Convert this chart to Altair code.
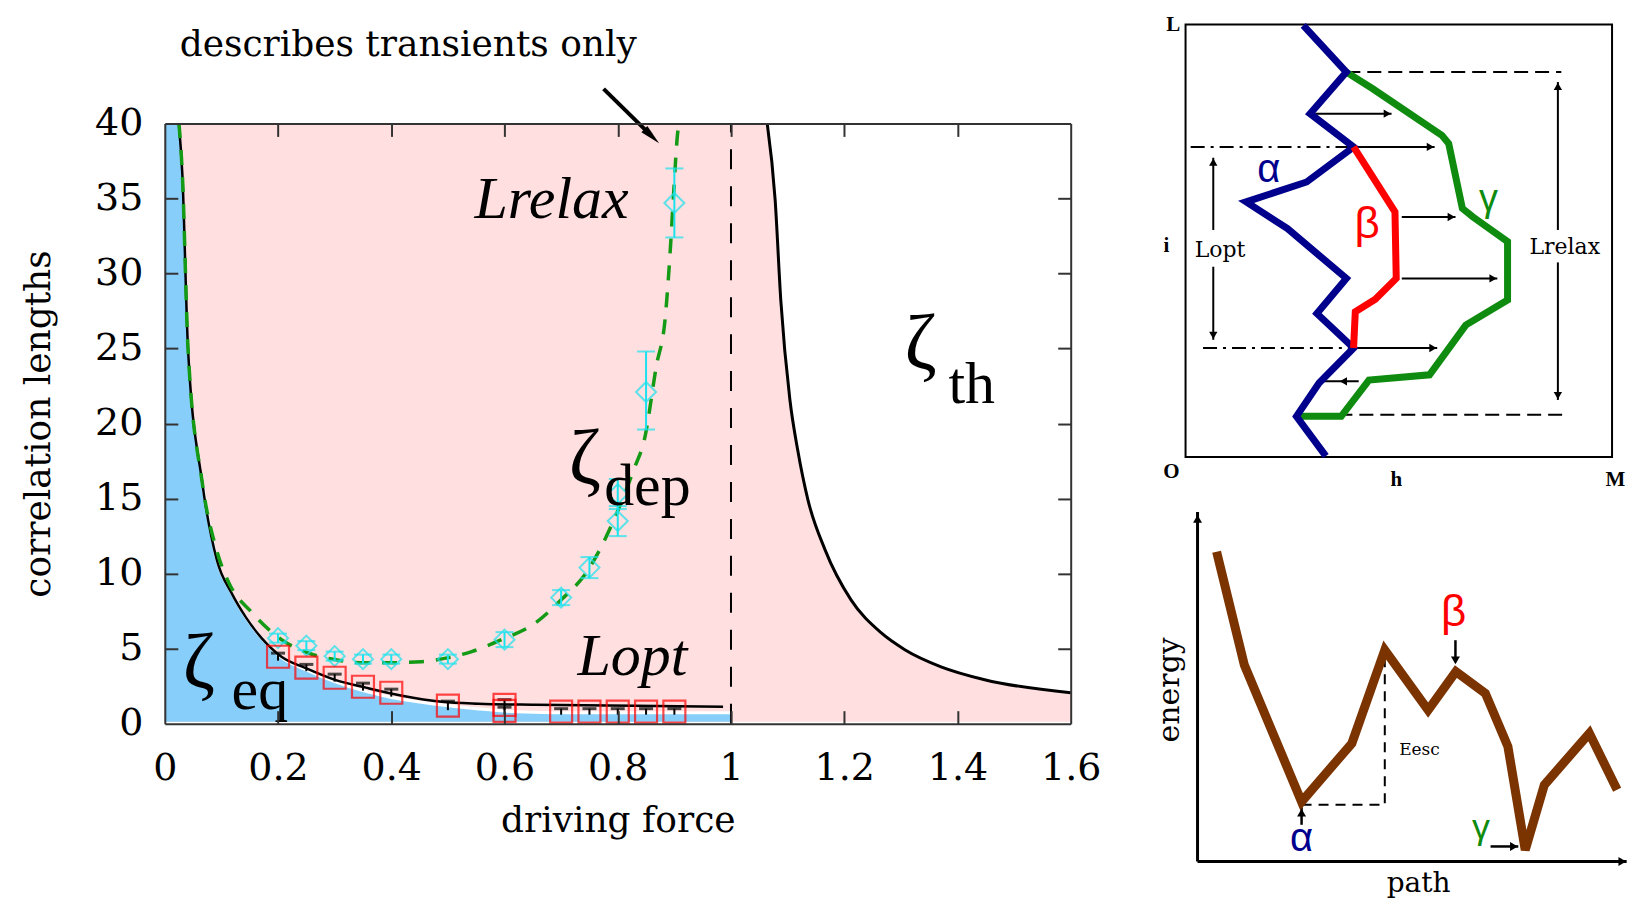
import altair as alt
import pandas as pd

SERIF = "DejaVu Serif"
TIMES = "Liberation Serif"
SANS = "Liberation Sans"

# ================= main panel: values =================
x_ticks = [0, 0.2, 0.4, 0.6, 0.8, 1.0, 1.2, 1.4, 1.6]
y_ticks = [0, 5, 10, 15, 20, 25, 30, 35, 40]
x_inner_ticks = [0.2, 0.4, 0.6, 0.8, 1.0, 1.2, 1.4]
y_inner_ticks = [5, 10, 15, 20, 25, 30, 35]

pink_x = [0.0, 1.064, 1.078, 1.088, 1.104, 1.118, 1.136, 1.166, 1.212, 1.265, 1.307, 1.371, 1.448, 1.6]
pink_y = [40.0, 40.0, 34.9, 28.2, 21.6, 18.2, 14.9, 11.6, 8.25, 6.06, 4.93, 3.79, 2.93, 2.06]

blue_x = [0.0, 0.024, 0.031, 0.041, 0.066, 0.092, 0.118, 0.143, 0.171, 0.206, 0.249, 0.30, 0.35, 0.40,
          0.45, 0.50, 0.55, 0.62, 0.75, 1.0]
blue_y = [40.0, 40.0, 36.6, 25.0, 16.1, 10.9, 8.7, 7.1, 5.7, 4.4, 3.6, 2.8, 2.2, 1.75,
          1.45, 1.2, 1.0, 0.8, 0.72, 0.72]
fill_floor = [0.12]

eq_x = [0.0247, 0.031, 0.041, 0.066, 0.092, 0.118, 0.143, 0.171, 0.206, 0.249, 0.302, 0.355, 0.419,
        0.489, 0.554, 0.654, 0.83, 0.986]
eq_y = [40.0, 36.6, 25.0, 16.1, 10.9, 8.7, 7.1, 5.7, 4.46, 3.7, 2.9, 2.4, 1.86,
        1.46, 1.33, 1.26, 1.2, 1.13]

th_x = [1.064, 1.078, 1.088, 1.104, 1.118, 1.136, 1.166, 1.212, 1.265, 1.307, 1.371, 1.448, 1.6]
th_y = [40.0, 34.9, 28.2, 21.6, 18.2, 14.9, 11.6, 8.25, 6.06, 4.93, 3.79, 2.93, 2.06]

fit_x = [0.025, 0.031, 0.041, 0.066, 0.092, 0.113, 0.154, 0.206, 0.254, 0.302, 0.348, 0.395, 0.453,
         0.501, 0.542, 0.595, 0.654, 0.70, 0.745, 0.798, 0.828, 0.848, 0.868, 0.884, 0.893, 0.898,
         0.907, 0.909]
fit_y = [40.0, 36.6, 25.0, 16.1, 11.5, 9.4, 7.4, 5.6, 4.7, 4.26, 4.06, 4.06, 4.13,
         4.4, 4.8, 5.6, 6.7, 8.25, 10.1, 14.0, 16.9, 19.1, 23.8, 27.1, 31.7, 34.9,
         39.7, 40.0]

relax_x = [0.2, 0.25, 0.3, 0.35, 0.4, 0.5, 0.6, 0.7, 0.75, 0.8, 0.8, 0.85, 0.9]
relax_y = [5.7, 5.2, 4.5, 4.3, 4.3, 4.3, 5.6, 8.4, 10.4, 13.5, 15.3, 22.1, 34.7]
relax_lo = [5.4, 4.9, 4.2, 4.0, 4.0, 4.0, 5.1, 7.9, 9.7, 12.5, 14.3, 19.6, 32.4]
relax_hi = [6.0, 5.5, 4.8, 4.6, 4.6, 4.6, 6.1, 8.9, 11.1, 14.5, 16.3, 24.8, 37.0]

opt_x = [0.2, 0.25, 0.3, 0.35, 0.4, 0.5, 0.6, 0.6, 0.7, 0.75, 0.8, 0.85, 0.9]
opt_y = [4.46, 3.73, 3.06, 2.46, 2.06, 1.2, 1.25, 0.85, 0.8, 0.8, 0.8, 0.8, 0.8]
opt_lo = [4.2, 3.5, 2.8, 2.2, 1.8, 0.9, 0.9, 0.6, 0.6, 0.6, 0.6, 0.6, 0.6]
opt_hi = [4.7, 3.95, 3.3, 2.7, 2.3, 1.5, 1.6, 1.1, 1.0, 1.0, 1.0, 1.0, 1.0]

depin_x = [1.0]
depin_y = [0.0]
depin_y2 = [40.0]

note_x = [0.430]
note_y = [44.5]
note_text = ["describes transients only"]
note_arrow_x = [0.775, 0.860]
note_arrow_y = [42.3, 39.15]

italic_x = [0.683, 0.826]
italic_y = [33.7, 3.26]
italic_text = ["Lrelax", "Lopt"]

zeta_x = [0.742, 1.335, 0.060]
zeta_y = [17.6, 25.2, 4.0]
sub_x = [0.776, 1.384, 0.118]
sub_y = [14.6, 21.4, 1.0]
sub_text = ["dep", "th", "eq"]

W, H = 907, 601
XS = alt.Scale(domain=[0, 1.6], nice=False, zero=False)
YS = alt.Scale(domain=[0, 40], nice=False, zero=False)


def MX(f="x"):
    return alt.X(f + ":Q", scale=XS, axis=None)


def MY(f="y"):
    return alt.Y(f + ":Q", scale=YS, axis=None)


pink = alt.Chart(pd.DataFrame({"x": pink_x, "y": pink_y, "b": fill_floor * len(pink_x)})).mark_area(
    color="#ffdfdf", opacity=1, interpolate="monotone").encode(x=MX(), y=MY(), y2="b:Q")
blue = alt.Chart(pd.DataFrame({"x": blue_x, "y": blue_y, "b": fill_floor * len(blue_x)})).mark_area(
    color="#87cefa", opacity=1, interpolate="monotone").encode(x=MX(), y=MY(), y2="b:Q")
blue_edge = alt.Chart(pd.DataFrame({"x": blue_x[4:], "y": blue_y[4:]})).mark_line(
    color="white", strokeWidth=3, interpolate="monotone").encode(x=MX(), y=MY())

depin = alt.Chart(pd.DataFrame({"x": depin_x, "y": depin_y, "y2": depin_y2})).mark_rule(
    color="black", strokeWidth=2, strokeDash=[20, 17]).encode(x=MX(), y=MY(), y2="y2:Q")

eq_line = alt.Chart(pd.DataFrame({"x": eq_x, "y": eq_y})).mark_line(
    color="black", strokeWidth=2.5, interpolate="monotone").encode(x=MX(), y=MY())
th_line = alt.Chart(pd.DataFrame({"x": th_x, "y": th_y})).mark_line(
    color="black", strokeWidth=3, interpolate="monotone").encode(x=MX(), y=MY())
fit_line = alt.Chart(pd.DataFrame({"x": fit_x, "y": fit_y})).mark_line(
    color="#149a14", strokeWidth=3.5, strokeDash=[15, 12], interpolate="monotone").encode(
    x=MX(), y=MY())

relax_df = pd.DataFrame({"x": relax_x, "y": relax_y, "lo": relax_lo, "hi": relax_hi})
relax_bar = alt.Chart(relax_df).mark_rule(color="#19e3ee", strokeWidth=2).encode(
    x=MX(), y=MY("lo"), y2="hi:Q")
relax_cap_lo = alt.Chart(relax_df).mark_tick(color="#19e3ee", orient="horizontal", size=18,
                                             thickness=2).encode(x=MX(), y=MY("lo"))
relax_cap_hi = alt.Chart(relax_df).mark_tick(color="#19e3ee", orient="horizontal", size=18,
                                             thickness=2).encode(x=MX(), y=MY("hi"))
relax_pts = alt.Chart(relax_df).mark_point(shape="diamond", size=400, filled=False,
                                           color="#19e3ee", strokeWidth=2).encode(x=MX(), y=MY())

opt_df = pd.DataFrame({"x": opt_x, "y": opt_y, "lo": opt_lo, "hi": opt_hi})
opt_bar = alt.Chart(opt_df).mark_rule(color="black", strokeWidth=2).encode(
    x=MX(), y=MY("lo"), y2="hi:Q")
opt_cap = alt.Chart(opt_df).mark_tick(color="black", orient="horizontal", size=14,
                                      thickness=3).encode(x=MX(), y=MY("hi"))
opt_pts = alt.Chart(opt_df).mark_point(shape="square", size=484, filled=False,
                                       color="#ff0000", strokeWidth=2.2).encode(x=MX(), y=MY())


def mtext(xs, ys, ts, **kw):
    df = pd.DataFrame({"x": xs, "y": ys, "t": ts})
    return alt.Chart(df).mark_text(**kw).encode(x=MX(), y=MY(), text="t:N")


note = mtext(note_x, note_y, note_text, font=SERIF, fontSize=36, color="black",
             align="center", baseline="alphabetic")
note_line = alt.Chart(pd.DataFrame({"x": note_arrow_x, "y": note_arrow_y})).mark_line(
    color="black", strokeWidth=4).encode(x=MX(), y=MY())
note_head = alt.Chart(pd.DataFrame({"x": note_arrow_x[1:], "y": note_arrow_y[1:]})).mark_point(
    shape="M0,-1L0.42,1L-0.42,1Z", size=420, filled=True, color="black", opacity=1,
    angle=134).encode(x=MX(), y=MY())

italics = mtext(italic_x, italic_y, italic_text, font=TIMES, fontSize=60, fontStyle="italic",
                color="black", align="center", baseline="alphabetic")
zetas = mtext(zeta_x, zeta_y, ["ζ", "ζ", "ζ"], font=TIMES, fontSize=78, color="black",
              align="center", baseline="middle")
subs = mtext(sub_x, sub_y, sub_text, font=TIMES, fontSize=60, color="black",
             align="left", baseline="alphabetic")

axis_df = pd.DataFrame({"x": [0.0], "y": [0.0]})
common_ax = dict(grid=False, domainColor="#333333", domainWidth=2, tickColor="#333333",
                 tickWidth=2, zindex=3)
ax_main = alt.Chart(axis_df).mark_point(opacity=0).encode(
    x=alt.X("x:Q", scale=XS, title="driving force",
            axis=alt.Axis(orient="bottom", values=x_ticks, format="~g", ticks=False, domain=True,
                          labelFont=SERIF, labelFontSize=38, labelColor="black", labelPadding=26,
                          labelFlush=False, labelOverlap=False, titleFont=SERIF, titleFontSize=36,
                          titleFontWeight="normal", titleColor="black", titlePadding=16,
                          **common_ax)),
    y=alt.Y("y:Q", scale=YS, title="correlation lengths",
            axis=alt.Axis(orient="left", values=y_ticks, format="d", ticks=False, domain=True,
                          labelFont=SERIF, labelFontSize=38, labelColor="black", labelPadding=22,
                          labelFlush=False, labelOverlap=False, titleFont=SERIF, titleFontSize=36,
                          titleFontWeight="normal", titleColor="black", titlePadding=37,
                          **common_ax)),
)
ax_in1 = alt.Chart(axis_df).mark_point(opacity=0).encode(
    x=alt.X("x:Q", scale=XS, axis=alt.Axis(orient="top", offset=-H, values=x_inner_ticks,
                                            labels=False, domain=False, ticks=True, tickSize=13,
                                            title=None, **common_ax)),
    y=alt.Y("y:Q", scale=YS, axis=alt.Axis(orient="right", offset=-W, values=y_inner_ticks,
                                            labels=False, domain=False, ticks=True, tickSize=13,
                                            title=None, **common_ax)),
)
ax_in2 = alt.Chart(axis_df).mark_point(opacity=0).encode(
    x=alt.X("x:Q", scale=XS, axis=alt.Axis(orient="bottom", offset=-H, values=x_inner_ticks,
                                            labels=False, domain=True, ticks=True, tickSize=13,
                                            title=None, **common_ax)),
    y=alt.Y("y:Q", scale=YS, axis=alt.Axis(orient="left", offset=-W, values=y_inner_ticks,
                                            labels=False, domain=True, ticks=True, tickSize=13,
                                            title=None, **common_ax)),
)

main = alt.layer(
    pink, blue, blue_edge, depin, eq_line, th_line, fit_line,
    relax_bar, relax_cap_lo, relax_cap_hi, relax_pts,
    opt_bar, opt_cap, opt_pts,
    note, note_line, note_head, italics, zetas, subs,
    ax_main, ax_in1, ax_in2,
).resolve_axis(x="independent", y="independent").properties(
    width=W, height=H, view={"stroke": "transparent"})

# ================= right panel (shares the main panel's top edge) =================
RW, RH = 440, 739

# ---- top sketch: interface configurations (box spans u, v = 0..100) ----
box_u = [0.0]
box_u2 = [100.0]
box_v = [0.0]
box_v2 = [100.0]

alpha_u = [27.6, 37.7, 29.2, 39.4, 28.4, 14.2, 23.9, 37.7, 30.8, 39.4, 31.3, 26.0, 32.9]
alpha_v = [99.8, 89.0, 79.4, 71.7, 63.6, 59.0, 52.8, 41.3, 33.2, 25.2, 17.1, 9.4, 0.2]
beta_u = [39.4, 49.1, 49.4, 44.5, 39.8, 39.4]
beta_v = [71.7, 56.7, 41.3, 36.5, 33.6, 25.2]
gamma_u = [37.7, 43.8, 60.1, 61.7, 64.9, 67.4, 75.5, 75.5, 65.7, 57.2, 43.0, 36.5, 26.0]
gamma_v = [89.0, 85.2, 74.4, 72.5, 57.5, 55.5, 49.8, 36.3, 30.5, 19.0, 17.8, 9.4, 9.4]

dash_v = [89.0, 9.8]
dash_u1 = [37.7, 26.0]
dash_u2 = [88.1, 88.9]
dashdot_v = [71.7, 25.2]
dashdot_u1 = [1.2, 4.1]
dashdot_u2 = [39.4, 39.4]

harrow_v = [79.4, 71.7, 55.5, 41.3, 25.2, 17.5]
harrow_u1 = [30.4, 39.4, 50.7, 50.7, 39.4, 32.5]
harrow_u2 = [48.3, 58.4, 63.3, 73.1, 59.0, 40.6]
headR_u = [47.3, 57.4, 62.3, 72.1, 58.0]
headR_v = [79.4, 71.7, 55.5, 41.3, 25.2]
headL_u = [37.0]
headL_v = [17.5]

varrow_u = [6.5, 6.5, 87.3, 87.3]
varrow_v1 = [52.5, 27.1, 52.5, 13.2]
varrow_v2 = [69.2, 44.0, 86.7, 45.0]
headU_u = [6.5, 87.3]
headU_v = [68.2, 85.7]
headD_u = [6.5, 87.3]
headD_v = [28.1, 14.2]

greek_top_u = [19.5, 42.6, 71.0]
greek_top_v = [66.3, 53.6, 59.4]
greek_top_text = ["α", "β", "γ"]
greek_top_size = [40, 44, 38]
greek_top_color = ["#00008c", "#ff0000", "#0f8c0f"]

len_u = [8.1, 88.9]
len_v = [47.8, 48.6]
len_text = ["Lopt", "Lrelax"]

edge_u = [-2.9, -3.3, 49.4, 100.8, -4.5]
edge_v = [99.8, -3.4, -5.3, -5.3, 48.9]
edge_text = ["L", "O", "h", "M", "i"]

US = alt.Scale(domain=[0, 103.04], nice=False, zero=False)
VS = alt.Scale(domain=[-93.53, 77.14], nice=False, zero=False)


def TX(f="u"):
    return alt.X(f + ":Q", scale=US, axis=None)


def TY(f="v"):
    return alt.Y(f + ":Q", scale=VS, axis=None)


def tpath(us, vs, color, width):
    df = pd.DataFrame({"u": us, "v": vs, "o": list(range(len(us)))})
    return alt.Chart(df).mark_line(color=color, strokeWidth=width).encode(
        x=TX(), y=TY(), order="o:Q")


def hrule(us1, us2, vs, **kw):
    df = pd.DataFrame({"u": us1, "u2": us2, "v": vs})
    return alt.Chart(df).mark_rule(**kw).encode(x=TX(), x2="u2:Q", y=TY())


def vrule(us, vs1, vs2, **kw):
    df = pd.DataFrame({"u": us, "v": vs1, "v2": vs2})
    return alt.Chart(df).mark_rule(**kw).encode(x=TX(), y=TY(), y2="v2:Q")


def heads(us, vs, shape, size=70):
    df = pd.DataFrame({"u": us, "v": vs})
    return alt.Chart(df).mark_point(shape=shape, size=size, filled=True, color="black",
                                    opacity=1).encode(x=TX(), y=TY())


def ttext(us, vs, ts, **kw):
    df = pd.DataFrame({"u": us, "v": vs, "t": ts})
    return alt.Chart(df).mark_text(**kw).encode(x=TX(), y=TY(), text="t:N")


greek_layers = []
for gu, gv, gt, gs, gc in zip(greek_top_u, greek_top_v, greek_top_text, greek_top_size,
                              greek_top_color):
    greek_layers.append(ttext([gu], [gv], [gt], font=SANS, fontSize=gs, color=gc,
                              align="center", baseline="middle"))

box = alt.Chart(pd.DataFrame({"u": box_u, "u2": box_u2, "v": box_v, "v2": box_v2})).mark_rect(
    fillOpacity=0, stroke="black", strokeWidth=2).encode(x=TX(), x2="u2:Q", y=TY(), y2="v2:Q")

top_diag = alt.layer(
    box,
    hrule(dash_u1, dash_u2, dash_v, color="black", strokeWidth=2, strokeDash=[14, 7]),
    hrule(dashdot_u1, dashdot_u2, dashdot_v, color="black", strokeWidth=2,
          strokeDash=[14, 6, 3, 6]),
    hrule(harrow_u1, harrow_u2, harrow_v, color="black", strokeWidth=2),
    heads(headR_u, headR_v, "triangle-right"),
    heads(headL_u, headL_v, "triangle-left"),
    vrule(varrow_u, varrow_v1, varrow_v2, color="black", strokeWidth=2),
    heads(headU_u, headU_v, "triangle-up"),
    heads(headD_u, headD_v, "triangle-down"),
    tpath(gamma_u, gamma_v, "#0f8c0f", 7),
    tpath(alpha_u, alpha_v, "#00008c", 7),
    tpath(beta_u, beta_v, "#ff0000", 7),
    *greek_layers,
    ttext(len_u, len_v, len_text, font=SERIF, fontSize=22, color="black", align="center",
          baseline="middle"),
    ttext(edge_u, edge_v, edge_text, font=TIMES, fontSize=21, fontWeight="bold", color="black",
          align="center", baseline="middle"),
)

# ---- bottom sketch: energy landscape (axes span s, e = 0..99) ----
land_s = [4.4, 10.8, 24.0, 35.6, 43.2, 53.2, 59.6, 66.4, 71.6, 75.6, 80.0, 90.4, 96.8]
land_e = [88.6, 56.2, 17.1, 33.8, 60.5, 43.3, 54.3, 48.1, 32.9, 3.3, 21.9, 36.7, 20.5]
esc_s = [24.0, 43.2, 43.2]
esc_e = [16.2, 16.2, 58.6]

axis_s = [0.0]
axis_e = [0.0]
axis_s_end = [99.0]
axis_e_end = [100.0]

barrow_s1 = [67.6]
barrow_s2 = [74.0]
barrow_e = [4.3]
varw_s = [59.5, 24.0]
varw_e1 = [63.3, 10.5]
varw_e2 = [57.5, 15.5]
bhead_down_s = [59.5]
bhead_down_e = [57.5]
bhead_up_s = [24.0, 0.0]
bhead_up_e = [14.0, 98.0]
bhead_right_s = [73.0, 98.0]
bhead_right_e = [4.3, 0.0]

greek_bot_s = [59.1, 24.0, 65.4]
greek_bot_e = [71.1, 6.3, 9.7]
greek_bot_text = ["β", "α", "γ"]
greek_bot_size = [44, 40, 36]
greek_bot_color = ["#ff0000", "#00008c", "#0f8c0f"]

SS = alt.Scale(domain=[-2.765, 98.62], nice=False, zero=False)
ES = alt.Scale(domain=[0, 211.14], nice=False, zero=False)


def BX(f="s"):
    return alt.X(f + ":Q", scale=SS, axis=None)


def BY(f="e"):
    return alt.Y(f + ":Q", scale=ES, axis=None)


def bpath(ss, es, **kw):
    df = pd.DataFrame({"s": ss, "e": es, "o": list(range(len(ss)))})
    return alt.Chart(df).mark_line(**kw).encode(x=BX(), y=BY(), order="o:Q")


def bheads(ss, es, shape, size=80):
    df = pd.DataFrame({"s": ss, "e": es})
    return alt.Chart(df).mark_point(shape=shape, size=size, filled=True, color="black",
                                    opacity=1).encode(x=BX(), y=BY())


def btext(ss, es, ts, **kw):
    df = pd.DataFrame({"s": ss, "e": es, "t": ts})
    return alt.Chart(df).mark_text(**kw).encode(x=BX(), y=BY(), text="t:N")


axis_df_b = pd.DataFrame({"s": axis_s, "e": axis_e, "s2": axis_s_end, "e2": axis_e_end})
bot_layers = [
    alt.Chart(axis_df_b).mark_rule(color="black", strokeWidth=3).encode(x=BX(), y=BY(), y2="e2:Q"),
    alt.Chart(axis_df_b).mark_rule(color="black", strokeWidth=3).encode(x=BX(), x2="s2:Q", y=BY()),
    bpath(esc_s, esc_e, color="black", strokeWidth=2, strokeDash=[10, 7]),
    alt.Chart(pd.DataFrame({"s": barrow_s1, "s2": barrow_s2, "e": barrow_e})).mark_rule(
        color="black", strokeWidth=2.5).encode(x=BX(), x2="s2:Q", y=BY()),
    alt.Chart(pd.DataFrame({"s": varw_s, "e": varw_e1, "e2": varw_e2})).mark_rule(
        color="black", strokeWidth=2.5).encode(x=BX(), y=BY(), y2="e2:Q"),
    bheads(bhead_down_s, bhead_down_e, "triangle-down"),
    bheads(bhead_up_s, bhead_up_e, "triangle-up"),
    bheads(bhead_right_s, bhead_right_e, "triangle-right"),
    bpath(land_s, land_e, color="#7b3300", strokeWidth=9),
    btext([-6.45], [49.1], ["energy"], font=SERIF, fontSize=30, angle=270, color="black",
          align="center", baseline="middle"),
    btext([51.0], [-6.3], ["path"], font=SERIF, fontSize=28, color="black",
          align="center", baseline="middle"),
    btext([51.2], [32.0], ["Eesc"], font=SERIF, fontSize=17, color="black",
          align="center", baseline="middle"),
]
for gs_, ge_, gt_, gz_, gc_ in zip(greek_bot_s, greek_bot_e, greek_bot_text, greek_bot_size,
                                   greek_bot_color):
    bot_layers.append(btext([gs_], [ge_], [gt_], font=SANS, fontSize=gz_, color=gc_,
                            align="center", baseline="middle"))

bot_diag = alt.layer(*bot_layers)

right = alt.layer(top_diag, bot_diag).resolve_scale(
    x="independent", y="independent").properties(
    width=RW, height=RH, view={"stroke": "transparent"})

chart = alt.hconcat(main, right, spacing=115, bounds="flush").properties(
    padding={"left": 12, "top": 2, "right": 0, "bottom": 0}, background="white"
).configure_view(stroke="transparent")

chart.save("out.html", embed_options={"renderer": "svg", "actions": False})
